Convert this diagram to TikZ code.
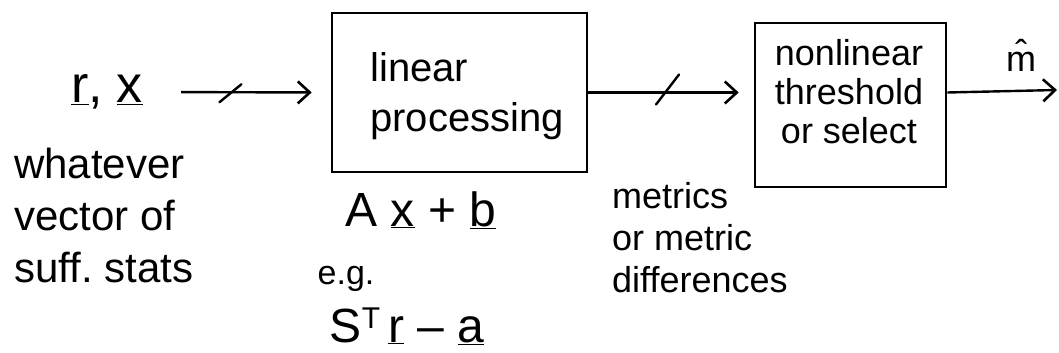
\documentclass[tikz,border=0pt]{standalone}
\usepackage{fontspec}
\setmainfont{Liberation Sans}
\usetikzlibrary{arrows.meta,calc}
\begin{document}
\begin{tikzpicture}[x=1pt,y=-1pt,
  blk/.style={draw, line width=2.6pt, inner sep=0pt},
  txt/.style={inner sep=0pt, font=\fontsize{40}{50}\selectfont},
  flow/.style={-{Straight Barb[length=12pt,width=22pt,line width=2.6pt]}, line width=2.4pt},
  tickmark/.style={line width=2.4pt, line cap=round}]
\useasboundingbox (0,0) rectangle (1059,353);
% blocks
\node[blk, minimum width=255pt, minimum height=159pt] (lin) at (459.5,92.5) {};
\node[txt, align=left] (lintxt) at (467,96) {linear\\processing};
\node[blk, minimum width=191pt, minimum height=164pt] (nl) at (850.5,105) {};
\node[txt, align=center, font=\fontsize{36}{39}\selectfont] (nltxt) at (849,92) {nonlinear\\threshold\\or select};
% labels
\node[txt, anchor=west, font=\fontsize{52}{56}\selectfont] (rx) at (71,92) {\underline{r},\hspace{14pt}\underline{x}};
\node[txt, anchor=west, align=left, font=\fontsize{42}{52}\selectfont] (suff) at (14,215) {whatever\\vector of\\suff.\ stats};
\node[txt, font=\fontsize{48}{50}\selectfont] (axb) at (421,210) {A \underline{x} + \underline{b}};
\node[txt, font=\fontsize{34}{36}\selectfont] (eg) at (346,279) {e.g.};
\node[txt, font=\fontsize{48}{50}\selectfont] (str) at (407,326) {S\raisebox{14pt}{\fontsize{30}{30}\selectfont T}\,\underline{r} – \underline{a}};
\node[txt, anchor=west, align=left, font=\fontsize{36}{42}\selectfont] (met) at (612,238) {metrics\\or metric\\differences};
\node[txt, font=\fontsize{36}{38}\selectfont] (mhat) at (1021,55) {\^{m}};
\coordinate (out) at (1057,90);
% connectors
\draw[flow, shorten <=38pt, shorten >=19pt] (rx.east) -- coordinate[pos=0.46] (t1) (lin.west);
\draw[tickmark] ($(t1)+(-10,10)$) -- ($(t1)+(12,-8)$);
\draw[flow, shorten >=15pt] (lin.east) -- coordinate[pos=0.476] (t2) (lin.east -| nl.west);
\draw[tickmark] ($(t2)+(-11,12)$) -- ($(t2)+(12,-18)$);
\draw[flow] (nl.east |- lin.east) -- (out);
\end{tikzpicture}
\end{document}
